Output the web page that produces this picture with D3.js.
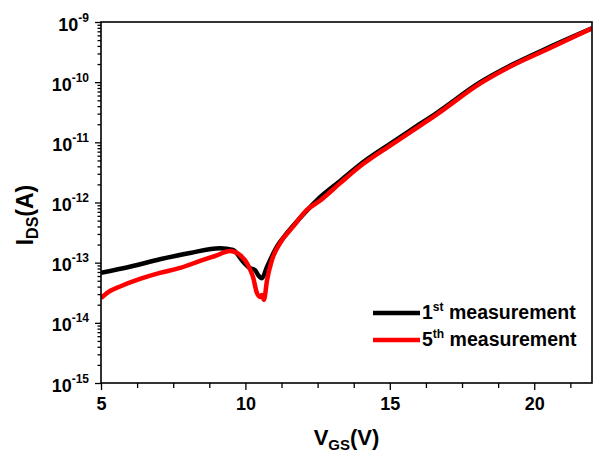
<!DOCTYPE html>
<html>
<head>
<meta charset="utf-8">
<script src="https://cdn.jsdelivr.net/npm/d3@7"></script>
<style>
  html, body { margin: 0; padding: 0; background: #fff; }
  svg { display: block; }
  text { font-family: "Liberation Sans", Arial, sans-serif; font-weight: bold; fill: #000; }
</style>
</head>
<body>
<svg id="chart" width="593" height="455"></svg>
<script>
// ---- Data ----
const vgs1 = [5.0, 6.0, 7.04, 8.08, 9.12, 9.57, 9.92, 10.16, 10.33, 10.44, 10.57, 10.75, 11.09, 11.44, 11.89, 12.48, 13.28, 14.07, 15.01, 15.80, 16.63, 18.12, 19.26, 20.44, 22.0];
const ids1 = [6.81e-14, 8.57e-14, 1.138e-13, 1.449e-13, 1.734e-13, 1.626e-13, 1.038e-13, 8.07e-14, 7.55e-14, 6.24e-14, 5.5e-14, 8.57e-14, 1.845e-13, 3.11e-13, 5.53e-13, 1.10e-12, 2.28e-12, 4.65e-12, 9.45e-12, 1.69e-11, 3.10e-11, 9.9e-11, 1.98e-10, 3.66e-10, 7.85e-10];

const vgs5 = [5.0, 5.31, 5.66, 6.35, 7.04, 7.74, 8.43, 8.95, 9.47, 9.81, 10.09, 10.26, 10.40, 10.51, 10.57, 10.64, 10.75, 10.92, 11.20, 11.65, 12.13, 12.58, 13.28, 14.07, 15.01, 15.80, 16.63, 18.12, 19.26, 20.44, 22.0];
const ids5 = [2.59e-14, 3.38e-14, 4.02e-14, 5.36e-14, 6.75e-14, 8.17e-14, 1.067e-13, 1.291e-13, 1.563e-13, 1.343e-13, 9.14e-14, 5.85e-14, 3.13e-14, 2.69e-14, 2.90e-14, 2.40e-14, 5.15e-14, 1.109e-13, 2.12e-13, 3.96e-13, 7.52e-13, 1.07e-12, 2.10e-12, 4.35e-12, 8.85e-12, 1.58e-11, 2.92e-11, 9.45e-11, 1.91e-10, 3.49e-10, 7.85e-10];

const xTicks = [5, 10, 15, 20];
const xMinorTicks = [6.25, 7.5, 8.75, 11.25, 12.5, 13.75, 16.25, 17.5, 18.75, 21.25];
const yTickExps = [-15, -14, -13, -12, -11, -10, -9];
const seriesNames = ["measurement", "measurement"];
const seriesOrdinals = [["1", "st"], ["5", "th"]];
const seriesColors = ["#000000", "#ff0000"];

// ---- Layout ----
const svg = d3.select("#chart");
const L = 101, R = 592, T = 22, B = 383;

const x = d3.scaleLinear().domain([5, 22]).range([L, R]);
const y = d3.scaleLog().domain([1e-15, 1e-9]).range([B, T]);

svg.append("defs").append("clipPath").attr("id", "clip")
  .append("rect").attr("x", L).attr("y", T).attr("width", R - L).attr("height", B - T);

const yMinor = [];
for (let e = -15; e < -9; e++) for (let m = 2; m <= 9; m++) yMinor.push(m * Math.pow(10, e));

const gyMinor = svg.append("g").attr("transform", `translate(${L},0)`)
  .call(d3.axisLeft(y).tickValues(yMinor).tickSize(3.5).tickFormat(""));
const gy = svg.append("g").attr("transform", `translate(${L},0)`)
  .call(d3.axisLeft(y).tickValues(yTickExps.map(e => Math.pow(10, e))).tickSize(6).tickFormat(""));

const gxMinor = svg.append("g").attr("transform", `translate(0,${B})`)
  .call(d3.axisBottom(x).tickValues(xMinorTicks).tickSize(5).tickFormat(""));
const gx = svg.append("g").attr("transform", `translate(0,${B})`)
  .call(d3.axisBottom(x).tickValues(xTicks).tickSize(7).tickFormat(d3.format("d")));

[gyMinor, gy, gxMinor, gx].forEach(g => {
  g.select(".domain").remove();
  g.selectAll(".tick line").attr("stroke", "#000").attr("stroke-width", 1.3);
});

gx.selectAll(".tick text")
  .attr("font-size", 18).attr("dy", 0).attr("y", 27)
  .style("font-family", '"Liberation Sans", Arial, sans-serif').style("font-weight", "bold");

gy.selectAll(".tick").each(function (d) {
  const e = Math.round(Math.log10(d));
  const t = d3.select(this).append("text")
    .attr("x", -12).attr("y", 8).attr("text-anchor", "end")
    .attr("font-size", 18);
  t.append("tspan").text("10");
  t.append("tspan").attr("font-size", 12).attr("dy", -9).text(String(e));
});

const line = d3.line().x(d => x(d[0])).y(d => y(d[1])).curve(d3.curveMonotoneX);
const plot = svg.append("g").attr("clip-path", "url(#clip)");
const series = [d3.zip(vgs1, ids1), d3.zip(vgs5, ids5)];
series.forEach((s, i) => {
  plot.append("path").datum(s)
    .attr("fill", "none").attr("stroke", seriesColors[i])
    .attr("stroke-width", 4.5).attr("stroke-linejoin", "round")
    .attr("d", line);
});

svg.append("rect").attr("x", L).attr("y", T).attr("width", R - L).attr("height", B - T)
  .attr("fill", "none").attr("stroke", "#000").attr("stroke-width", 1.6);

const leg = svg.append("g");
seriesNames.forEach((name, i) => {
  const ly = 313 + i * 27;
  leg.append("line").attr("x1", 373).attr("x2", 420).attr("y1", ly).attr("y2", ly)
    .attr("stroke", seriesColors[i]).attr("stroke-width", 4.5);
  const t = leg.append("text").attr("x", 422).attr("y", ly + 6).attr("font-size", 19.5);
  t.append("tspan").text(seriesOrdinals[i][0]);
  t.append("tspan").attr("font-size", 12).attr("dy", -8).text(seriesOrdinals[i][1]);
  t.append("tspan").attr("dy", 8).text(" " + name);
});

const xt = svg.append("text").attr("x", (L + R) / 2).attr("y", 445)
  .attr("text-anchor", "middle").attr("font-size", 22);
xt.append("tspan").text("V");
xt.append("tspan").attr("font-size", 15).attr("dy", 5).text("GS");
xt.append("tspan").attr("dy", -5).text("(V)");

const yt = svg.append("text").attr("transform", "translate(33,215) rotate(-90)")
  .attr("text-anchor", "middle").attr("font-size", 23);
yt.append("tspan").text("I");
yt.append("tspan").attr("font-size", 16).attr("dy", 5).text("DS");
yt.append("tspan").attr("dy", -5).text("(A)");
</script>
</body>
</html>
